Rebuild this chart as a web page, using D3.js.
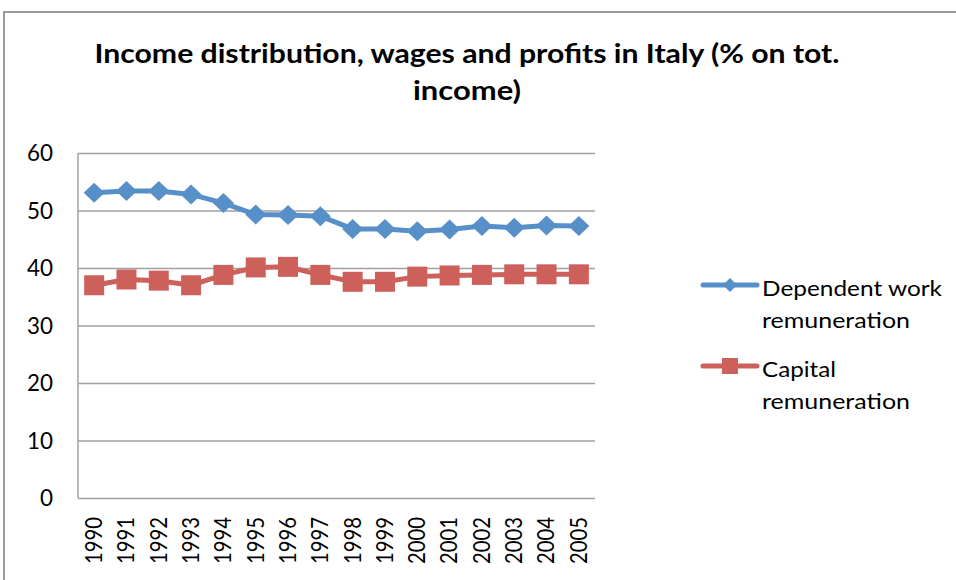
<!DOCTYPE html>
<html>
<head>
<meta charset="utf-8">
<script src="https://cdn.jsdelivr.net/npm/d3@7"></script>
<style>
  body { margin: 0; background: #fff; }
  text { font-family: Lato, "Open Sans", sans-serif; fill: #000; }
</style>
</head>
<body>
<svg id="chart" width="956" height="580"></svg>
<script>
// Data
const years = ["1990", "1991", "1992", "1993", "1994", "1995", "1996", "1997",
  "1998", "1999", "2000", "2001", "2002", "2003", "2004", "2005"];
const dependentWork = [53.1, 53.4, 53.4, 52.8, 51.3, 49.3, 49.2, 49.0,
  46.8, 46.8, 46.4, 46.7, 47.3, 47.0, 47.4, 47.3];
const capital = [37.0, 38.0, 37.8, 37.0, 38.8, 40.1, 40.2, 38.8,
  37.6, 37.6, 38.5, 38.7, 38.8, 38.9, 38.9, 38.9];
const yTicks = [0, 10, 20, 30, 40, 50, 60];

const blue = "#5790c8";
const red = "#cd605a";

const svg = d3.select("#chart");

// Outer frame
svg.append("rect")
  .attr("x", 4).attr("y", 12)
  .attr("width", 960).attr("height", 600)
  .attr("fill", "none")
  .attr("stroke", "#9a9a9a")
  .attr("stroke-width", 2);

// Title (reference font is wider than Lato, so stretch it)
const title = svg.append("text")
  .attr("text-anchor", "middle")
  .attr("font-weight", "bold")
  .attr("font-size", 26);
title.append("tspan").attr("x", 467).attr("y", 63)
  .attr("textLength", 745).attr("lengthAdjust", "spacingAndGlyphs")
  .text("Income distribution, wages and profits in Italy (% on tot.");
title.append("tspan").attr("x", 467).attr("y", 100)
  .attr("textLength", 108).attr("lengthAdjust", "spacingAndGlyphs")
  .text("income)");

// Plot area
const plot = { left: 78, right: 595, top: 153, bottom: 498 };

const x = d3.scaleBand()
  .domain(years)
  .range([plot.left, plot.right]);

const y = d3.scaleLinear()
  .domain([0, 60])
  .range([plot.bottom, plot.top]);

// Grid lines
svg.append("g")
  .attr("transform", `translate(${plot.left},0)`)
  .call(d3.axisLeft(y).tickValues(yTicks).tickSize(-(plot.right - plot.left)).tickFormat(""))
  .call(g => g.select(".domain").remove())
  .call(g => g.selectAll("line").attr("stroke", "#a0a0a0").attr("stroke-width", 1.5));

// Y axis line and labels
svg.append("line")
  .attr("x1", plot.left).attr("x2", plot.left)
  .attr("y1", plot.top).attr("y2", plot.bottom)
  .attr("stroke", "#a0a0a0").attr("stroke-width", 1.5);

svg.append("g")
  .selectAll("text")
  .data(yTicks)
  .enter()
  .append("text")
  .attr("x", 53)
  .attr("y", d => y(d))
  .attr("dy", "0.35em")
  .attr("text-anchor", "end")
  .attr("font-size", 23)
  .attr("textLength", d => String(d).length * 13)
  .attr("lengthAdjust", "spacingAndGlyphs")
  .text(d => d);

// X labels, rotated
svg.append("g")
  .selectAll("text")
  .data(years)
  .enter()
  .append("text")
  .attr("transform", d => `translate(${x(d) + x.bandwidth() / 2},${plot.bottom + 19}) rotate(-90)`)
  .attr("dy", "0.35em")
  .attr("text-anchor", "end")
  .attr("font-size", 22.5)
  .attr("textLength", 47)
  .attr("lengthAdjust", "spacingAndGlyphs")
  .text(d => d);

const line = d3.line()
  .x((d, i) => x(years[i]) + x.bandwidth() / 2)
  .y(d => y(d));

// Dependent work series
svg.append("path")
  .datum(dependentWork)
  .attr("d", line)
  .attr("fill", "none")
  .attr("stroke", blue)
  .attr("stroke-width", 5);

svg.append("g")
  .selectAll("path")
  .data(dependentWork)
  .enter()
  .append("path")
  .attr("transform", (d, i) => `translate(${x(years[i]) + x.bandwidth() / 2},${y(d)})`)
  .attr("d", "M0,-10L10.5,0L0,10L-10.5,0Z")
  .attr("fill", blue);

// Capital series
svg.append("path")
  .datum(capital)
  .attr("d", line)
  .attr("fill", "none")
  .attr("stroke", red)
  .attr("stroke-width", 5);

svg.append("g")
  .selectAll("rect")
  .data(capital)
  .enter()
  .append("rect")
  .attr("x", (d, i) => x(years[i]) + x.bandwidth() / 2 - 10)
  .attr("y", d => y(d) - 10)
  .attr("width", 20)
  .attr("height", 20)
  .attr("fill", red);

// Legend
const legend = [
  { name: ["Dependent work", "remuneration"], widths: [180, 148], color: blue, shape: "diamond", y: 285 },
  { name: ["Capital", "remuneration"], widths: [74, 148], color: red, shape: "square", y: 366 }
];

legend.forEach(l => {
  const g = svg.append("g");
  g.append("line")
    .attr("x1", 703).attr("x2", 757)
    .attr("y1", l.y).attr("y2", l.y)
    .attr("stroke", l.color)
    .attr("stroke-width", 5)
    .attr("stroke-linecap", "round");
  if (l.shape === "diamond") {
    g.append("path")
      .attr("transform", `translate(730,${l.y})`)
      .attr("d", "M0,-7L7,0L0,7L-7,0Z")
      .attr("fill", l.color);
  } else {
    g.append("rect")
      .attr("x", 722).attr("y", l.y - 8)
      .attr("width", 16).attr("height", 16)
      .attr("fill", l.color);
  }
  const t = g.append("text").attr("font-size", 22);
  t.append("tspan").attr("x", 762).attr("y", l.y + 11)
    .attr("textLength", l.widths[0]).attr("lengthAdjust", "spacingAndGlyphs")
    .text(l.name[0]);
  t.append("tspan").attr("x", 762).attr("y", l.y + 43)
    .attr("textLength", l.widths[1]).attr("lengthAdjust", "spacingAndGlyphs")
    .text(l.name[1]);
});
</script>
</body>
</html>
